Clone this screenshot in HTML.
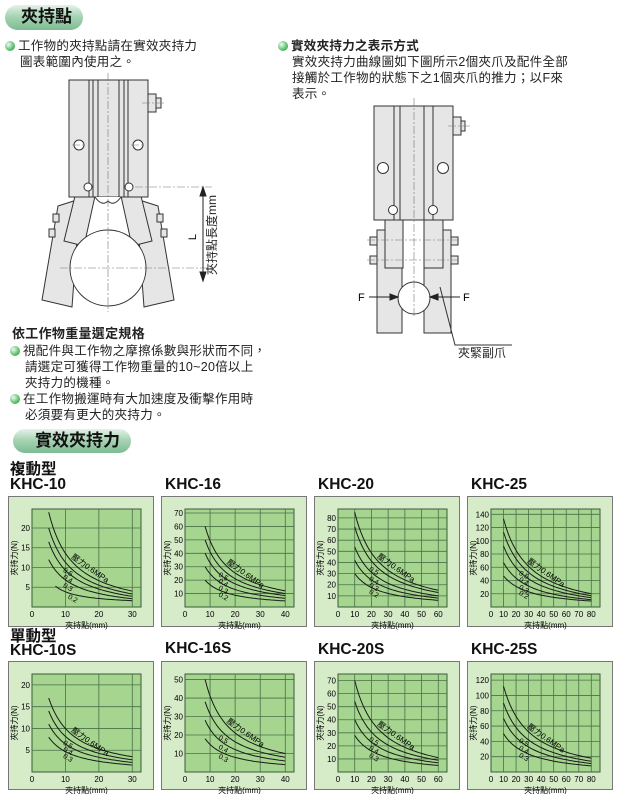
<!DOCTYPE html>
<html><head><meta charset="utf-8">
<style>
body{margin:0;width:620px;height:794px;background:#fff;position:relative;overflow:hidden;font-family:"Liberation Sans","Noto Sans CJK TC",sans-serif;color:#222}
.t{position:absolute;font-size:12.5px;line-height:16px;white-space:nowrap;letter-spacing:0.3px}
.pill{position:absolute;border-radius:14px;background:linear-gradient(180deg,#e4f2e8 0%,#a8d4b4 45%,#7cbc92 100%);font-weight:bold;font-size:17px;line-height:24px;color:#111}
.dot{display:inline-block;width:10px;height:10px;border-radius:50%;background:radial-gradient(circle at 35% 35%,#e8fff0,#5cbc6c 60%,#2c8a44);vertical-align:-1px;margin-right:3px}
.h{position:absolute;font-weight:bold;font-size:15.5px;line-height:16px;color:#111;white-space:nowrap}
</style></head><body>
<div class="pill" style="left:5px;top:5px;width:78px;height:25px;text-indent:16px">夾持點</div>
<div class="t" style="left:5px;top:38px"><span class="dot"></span>工作物的夾持點請在實效夾持力</div>
<div class="t" style="left:20px;top:54px">圖表範圍內使用之。</div>
<div class="t" style="left:278px;top:38px;font-weight:bold"><span class="dot"></span>實效夾持力之表示方式</div>
<div class="t" style="left:292px;top:54px">實效夾持力曲線圖如下圖所示2個夾爪及配件全部</div>
<div class="t" style="left:292px;top:70px">接觸於工作物的狀態下之1個夾爪的推力；以F來</div>
<div class="t" style="left:292px;top:86px">表示。</div>

<svg style="position:absolute;left:0;top:0" width="620" height="370">
<g fill="#e6e6e6" stroke="#333" stroke-width="1">
<polygon points="58,206 80,199 72,307 42,300"/>
<polygon points="158,206 136,199 144,307 174,300"/>
<polygon points="75,196 95,196 84,246 64,241"/>
<polygon points="141,196 121,196 132,246 152,241"/>
<circle cx="108" cy="268" r="38" fill="#fff"/>
<rect x="69" y="80" width="79" height="117"/>
<path d="M95,197 Q102,207 108,201 Q114,207 121,197" fill="#fff"/>
<rect x="148" y="94" width="8" height="18"/><rect x="156" y="98" width="5" height="10"/>
<rect x="53" y="214" width="6" height="8"/><rect x="49" y="229" width="6" height="8"/>
<rect x="157" y="214" width="6" height="8"/><rect x="161" y="229" width="6" height="8"/>
</g>
<g stroke="#333" fill="none">
<line x1="89" y1="80" x2="89" y2="197"/><line x1="93" y1="80" x2="93" y2="197"/><line x1="98" y1="80" x2="98" y2="197"/>
<line x1="119" y1="80" x2="119" y2="197"/><line x1="124" y1="80" x2="124" y2="197"/><line x1="128" y1="80" x2="128" y2="197"/>
<circle cx="79" cy="145" r="5" fill="#fff"/><circle cx="138" cy="145" r="5" fill="#fff"/>
<circle cx="88" cy="187" r="4" fill="#fff"/><circle cx="129" cy="187" r="4" fill="#fff"/>
</g>
<g stroke="#777" stroke-width="0.6" stroke-dasharray="8,2,2,2" fill="none">
<line x1="108" y1="73" x2="108" y2="312"/><line x1="60" y1="268" x2="212" y2="268"/>
<line x1="142" y1="103" x2="166" y2="103"/><line x1="72" y1="145" x2="86" y2="145"/><line x1="131" y1="145" x2="145" y2="145"/>
<line x1="135" y1="187" x2="212" y2="187"/>
</g>
<g stroke="#222" fill="#222">
<line x1="203" y1="190" x2="203" y2="278"/>
<polygon points="200,196 203,187 206,196"/><polygon points="200,272 203,281 206,272"/>
</g>
<text x="196" y="237" font-size="11" text-anchor="middle" transform="rotate(-90 196 237)" font-family="Liberation Sans">L</text>
<text x="216" y="235" font-size="12" text-anchor="middle" transform="rotate(-90 216 235)" font-family="Liberation Sans,Noto Sans CJK TC,sans-serif" fill="#222">夾持點長度mm</text>

<g fill="#e6e6e6" stroke="#333">
<rect x="377" y="230" width="25" height="103"/><rect x="424" y="230" width="27" height="103"/>
<rect x="385" y="218" width="18" height="50"/><rect x="424" y="218" width="19" height="50"/>
<rect x="374" y="106" width="79" height="114"/>
<rect x="453" y="117" width="8" height="18"/><rect x="461" y="121" width="4" height="10"/>
<rect x="370" y="237" width="7" height="8"/><rect x="370" y="256" width="7" height="8"/>
<rect x="451" y="237" width="7" height="8"/><rect x="451" y="256" width="7" height="8"/>
<circle cx="414" cy="298" r="16" fill="#fff"/>
</g>
<g stroke="#333" fill="none">
<line x1="394" y1="106" x2="394" y2="220"/><line x1="400" y1="106" x2="400" y2="220"/>
<line x1="424" y1="106" x2="424" y2="220"/><line x1="433" y1="106" x2="433" y2="220"/>
<circle cx="383" cy="168" r="5.5" fill="#fff"/><circle cx="443" cy="168" r="5.5" fill="#fff"/>
<circle cx="393" cy="210" r="4.5" fill="#fff"/><circle cx="433" cy="210" r="4.5" fill="#fff"/>
<polyline points="440,287 455,345 512,345"/>
</g>
<g stroke="#777" stroke-width="0.6" stroke-dasharray="8,2,2,2">
<line x1="414" y1="98" x2="414" y2="318"/><line x1="448" y1="126" x2="472" y2="126"/>
<line x1="367" y1="240" x2="459" y2="240"/><line x1="367" y1="260" x2="459" y2="260"/>
</g>
<g stroke="#222" fill="#222">
<line x1="369" y1="297" x2="396" y2="297"/><polygon points="390,294 398,297 390,300"/>
<line x1="432" y1="297" x2="460" y2="297"/><polygon points="438,294 430,297 438,300"/>
</g>
<text x="358" y="301" font-size="11" font-family="Liberation Sans">F</text>
<text x="463" y="301" font-size="11" font-family="Liberation Sans">F</text>
<text x="458" y="357" font-size="12" font-family="Liberation Sans,Noto Sans CJK TC,sans-serif" fill="#222">夾緊副爪</text>
</svg>

<div class="t" style="left:12px;top:326px;font-weight:bold;font-size:13px">依工作物重量選定規格</div>
<div class="t" style="left:10px;top:343px"><span class="dot"></span>視配件與工作物之摩擦係數與形狀而不同，</div>
<div class="t" style="left:25px;top:359px">請選定可獲得工作物重量的10~20倍以上</div>
<div class="t" style="left:25px;top:375px">夾持力的機種。</div>
<div class="t" style="left:10px;top:391px"><span class="dot"></span>在工作物搬運時有大加速度及衝擊作用時</div>
<div class="t" style="left:25px;top:407px">必須要有更大的夾持力。</div>
<div class="pill" style="left:13px;top:429px;width:118px;height:24px;text-indent:22px">實效夾持力</div>

<div class="h" style="left:10px;top:462px">複動型</div>
<div class="h" style="left:10px;top:477px">KHC-10</div>
<div class="h" style="left:165px;top:477px">KHC-16</div>
<div class="h" style="left:318px;top:477px">KHC-20</div>
<div class="h" style="left:471px;top:477px">KHC-25</div>
<div class="h" style="left:10px;top:629px">單動型</div>
<div class="h" style="left:10px;top:643px">KHC-10S</div>
<div class="h" style="left:165px;top:641px">KHC-16S</div>
<div class="h" style="left:318px;top:642px">KHC-20S</div>
<div class="h" style="left:471px;top:642px">KHC-25S</div>

<svg id="ch" style="position:absolute;left:0;top:0" width="620" height="794"></svg>
<script>
var C=[
{x:8,y:496,xm:30,xt:[10,20,30],yt:[5,10,15,20],top:24.8,x0:5,c:[[24,4],[20,3.3],[16.5,2.7],[12,2.1],[5.3,1.6,7]]},
{x:161,y:496,xm:40,xt:[10,20,30,40],yt:[10,20,30,40,50,60,70],top:73,x0:8,c:[[60,12],[50,10],[40,8.5],[30,6.5],[20,4.5]]},
{x:314,y:496,xm:60,xt:[10,20,30,40,50,60],yt:[10,20,30,40,50,60,70,80],top:88,x0:10,c:[[85,15],[72,13],[54,10],[42,8],[30,6]]},
{x:467,y:496,xm:80,xt:[10,20,30,40,50,60,70,80],yt:[20,40,60,80,100,120,140],top:148,x0:10,c:[[133,20],[113,17],[92,14],[67,11],[47,9]]},
{x:8,y:661,xm:30,xt:[10,20,30],yt:[5,10,15,20],top:22.5,x0:5,c:[[17,3.5],[14,2.8],[11,2.2],[8,1.6]]},
{x:161,y:661,xm:40,xt:[10,20,30,40],yt:[10,20,30,40,50],top:53,x0:8,c:[[50,10],[38,8],[28,6],[18,4]]},
{x:314,y:661,xm:60,xt:[10,20,30,40,50,60],yt:[10,20,30,40,50,60,70],top:75,x0:10,c:[[70,11],[54,9],[40,7],[28,5]]},
{x:467,y:661,xm:80,xt:[10,20,30,40,50,60,70,80],yt:[20,40,60,80,100,120],top:128,x0:10,c:[[112,18],[90,14],[70,11],[50,8]]}];
var s='',F='font-family="Liberation Sans,Noto Sans CJK TC,sans-serif"';
C.forEach(function(d){
 var bh=d.y<600?130:128,L=d.x+24,T=d.y+13,W=109,H=98,B=T+H;
 function X(v){return L+v*(W*0.92)/d.xm}function Y(v){return B-v*H/d.top}
 s+='<rect x="'+d.x+'.5" y="'+d.y+'.5" width="145" height="'+bh+'" fill="#d6ebc8" stroke="#777"/>';
 s+='<rect x="'+L+'" y="'+T+'" width="'+W+'" height="'+H+'" fill="#a5d58e" stroke="#3c5a3c"/>';
 d.xt.forEach(function(v){var x=X(v);s+='<line x1="'+x+'" y1="'+T+'" x2="'+x+'" y2="'+B+'" stroke="#4a704a" stroke-width="0.8"/>';s+='<text x="'+x+'" y="'+(B+10)+'" font-size="8" text-anchor="middle" '+F+'>'+v+'</text>';});
 s+='<text x="'+L+'" y="'+(B+10)+'" font-size="8" text-anchor="middle" '+F+'>0</text>';
 d.yt.forEach(function(v){var y=Y(v);s+='<line x1="'+L+'" y1="'+y+'" x2="'+(L+W)+'" y2="'+y+'" stroke="#4a704a" stroke-width="0.8"/>';s+='<text x="'+(L-2)+'" y="'+(y+3)+'" font-size="8" text-anchor="end" '+F+'>'+v+'</text>';});
 s+='<text x="'+(L+W/2)+'" y="'+(B+21)+'" font-size="8" text-anchor="middle" '+F+'>夾持點(mm)</text>';
 var ly=T+H/2;s+='<text x="'+(d.x+9)+'" y="'+ly+'" font-size="8" text-anchor="middle" transform="rotate(-90 '+(d.x+9)+' '+ly+')" '+F+'>夾持力(N)</text>';
 var lab=['0.5','0.4','0.3','0.2'];
 d.c.forEach(function(c,i){var x0=c[2]||d.x0,v0=c[0],v1=c[1],Ln=d.xm-x0,k=0.3*Ln,A=(v0-v1)/(1/k-1/(Ln+k)),Bc=v0-A/k,p=[];
  for(var j=0;j<=40;j++){var x=x0+Ln*j/40;p.push(X(x).toFixed(1)+','+Y(A/(x-x0+k)+Bc).toFixed(1));}
  s+='<polyline points="'+p.join(' ')+'" fill="none" stroke="#1a1a1a" stroke-width="1"/>';
  var xm=x0+Ln*0.27,vm=A/(xm-x0+k)+Bc;
  if(i==0){s+='<text x="'+(X(xm)-2)+'" y="'+(Y(vm)-2)+'" font-size="8" transform="rotate(35 '+X(xm)+' '+Y(vm)+')" '+F+'>壓力0.6MPa</text>';}
  else{s+='<text x="'+(X(xm)-6)+'" y="'+(Y(vm)+7)+'" font-size="7" transform="rotate(30 '+X(xm)+' '+Y(vm)+')" '+F+'>'+lab[i-1]+'</text>';}
 });
});
document.getElementById('ch').innerHTML=s;
</script>
</body></html>
